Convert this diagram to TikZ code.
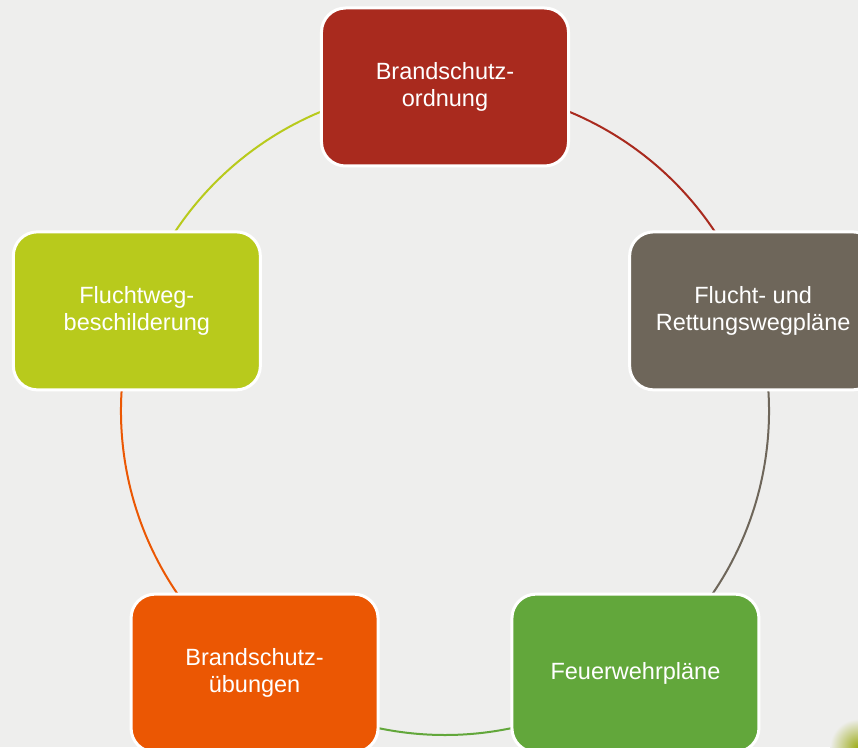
\documentclass[tikz,border=0pt]{standalone}
\usepackage{fontspec}
\setmainfont{Liberation Sans}
\usetikzlibrary{backgrounds}
\definecolor{hgrund}{HTML}{EEEEED}
\definecolor{brot}{HTML}{A92A1E}
\definecolor{bgrau}{HTML}{6E665A}
\definecolor{bgruen}{HTML}{62A73B}
\definecolor{borange}{HTML}{EB5703}
\definecolor{blime}{HTML}{B8CA1C}
\begin{document}
\begin{tikzpicture}[
  box/.style={draw=white,line width=3pt,rounded corners=24pt,minimum width=247pt,
    minimum height=158pt,text=white,align=center,font=\fontsize{23.5}{26.5}\selectfont},
  ring/.style={line width=2pt}]
\useasboundingbox (-445pt,-336pt) rectangle (413pt,411pt);
\node[box,fill=brot] (ordnung) at (90:324pt) {Brandschutz-\\ordnung};
\node[box,fill=bgrau] (plaene) at (18:324pt) {Flucht- und\\Rettungswegpläne};
\node[box,fill=bgruen] (feuerwehr) at (-54:324pt) {Feuerwehrpläne};
\node[box,fill=borange] (uebungen) at (234:324pt) {Brandschutz-\\übungen};
\node[box,fill=blime] (schilder) at (162:324pt) {Fluchtweg-\\beschilderung};
\begin{scope}[on background layer]
\fill[hgrund] (-445pt,-336pt) rectangle (413pt,411pt);
\shade[inner color=blime!85!black,outer color=hgrund] (413pt,-336pt) circle (28pt);
\draw[ring,brot] (ordnung.center) arc[start angle=90,end angle=18,radius=324pt];
\draw[ring,bgrau] (plaene.center) arc[start angle=18,end angle=-54,radius=324pt];
\draw[ring,bgruen] (feuerwehr.center) arc[start angle=-54,end angle=-126,radius=324pt];
\draw[ring,borange] (uebungen.center) arc[start angle=234,end angle=162,radius=324pt];
\draw[ring,blime] (schilder.center) arc[start angle=162,end angle=90,radius=324pt];
\end{scope}
\end{tikzpicture}
\end{document}
